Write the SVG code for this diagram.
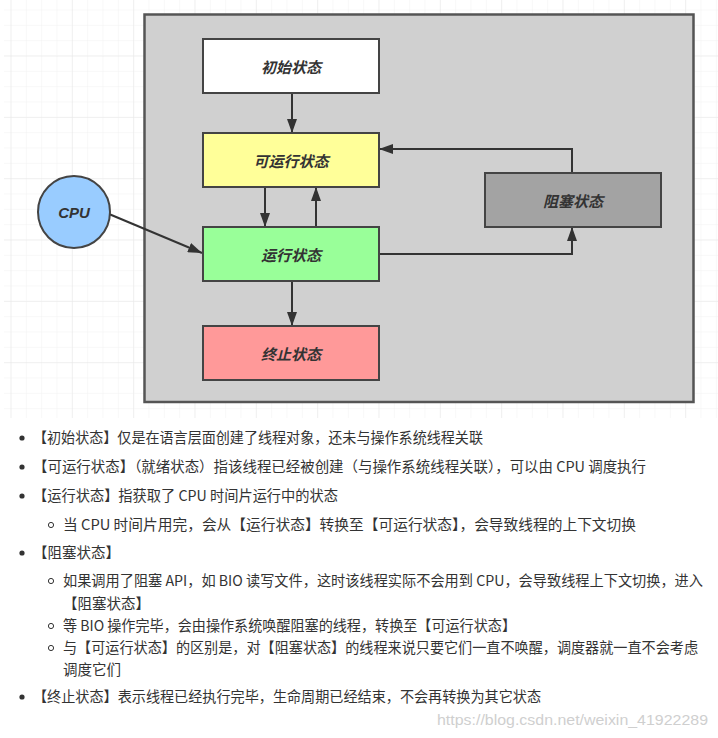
<svg xmlns="http://www.w3.org/2000/svg" width="718" height="738" viewBox="0 0 718 738">
<style>
.node{stroke:#444;stroke-width:2}
.lbl{font-family:"Noto Sans CJK SC","Noto Sans",sans-serif;font-size:15px;font-weight:bold;font-style:italic;fill:#333;text-anchor:middle;dominant-baseline:central}
.cpu{font-family:"Liberation Sans","Noto Sans",sans-serif;font-size:15px;font-weight:bold;font-style:italic;fill:#333;text-anchor:middle;dominant-baseline:central}
.edge{fill:none;stroke:#333;stroke-width:2}
.t{font-family:"Noto Sans CJK SC","Noto Sans",sans-serif;font-size:14.5px;fill:#333}
.wm{font-family:"Liberation Sans","Noto Sans",sans-serif;font-size:15px;fill:#cfcfcf}
</style>
<defs>
<pattern id="gmin" x="10.5" y="9.5" width="15.333" height="15.333" patternUnits="userSpaceOnUse">
<path d="M15.333 0H0V15.333" fill="none" stroke="#f1f1f1" stroke-width="1"/>
</pattern>
<pattern id="gmaj" x="10.5" y="-5.8" width="61.333" height="61.333" patternUnits="userSpaceOnUse">
<path d="M61.333 0H0V61.333" fill="none" stroke="#e7e7e7" stroke-width="1"/>
</pattern>
<marker id="ah" markerUnits="userSpaceOnUse" markerWidth="14" markerHeight="10" refX="14" refY="5" orient="auto">
<path d="M0,0L14,5L0,10z" fill="#333"/>
</marker>
</defs>
<rect width="718" height="738" fill="#fff"/>
<rect x="4" y="0" width="714" height="418" fill="url(#gmin)"/>
<rect x="4" y="0" width="714" height="418" fill="url(#gmaj)"/>
<g id="container">
<rect x="144.5" y="14.5" width="549" height="387.5" fill="#d0d0d0" stroke="#555" stroke-width="2.5"/>
</g>
<g id="connectors">
<line class="edge" x1="292" y1="93" x2="292" y2="133" marker-end="url(#ah)"/>
<line class="edge" x1="265" y1="187" x2="265" y2="227" marker-end="url(#ah)"/>
<line class="edge" x1="316" y1="227" x2="316" y2="187" marker-end="url(#ah)"/>
<line class="edge" x1="292" y1="281" x2="292" y2="326" marker-end="url(#ah)"/>
<line class="edge" x1="109" y1="214" x2="202" y2="253" marker-end="url(#ah)"/>
<polyline class="edge" points="379,254 572,254 572,227" marker-end="url(#ah)"/>
<polyline class="edge" points="572,173 572,149 379,149" marker-end="url(#ah)"/>
</g>
<g id="init"><rect class="node" x="203" y="39" width="176" height="54" fill="#ffffff"/><text class="lbl" x="291" y="66">初始状态</text></g>
<g id="runnable"><rect class="node" x="203" y="133" width="176" height="54" fill="#ffff99"/><text class="lbl" x="291" y="160">可运行状态</text></g>
<g id="running"><rect class="node" x="203" y="227" width="176" height="54" fill="#99ff99"/><text class="lbl" x="291" y="254">运行状态</text></g>
<g id="terminated"><rect class="node" x="203" y="326" width="176" height="54" fill="#ff9999"/><text class="lbl" x="291" y="353">终止状态</text></g>
<g id="blocked"><rect class="node" x="485" y="173" width="176" height="54" fill="#a3a3a3"/><text class="lbl" x="573" y="200">阻塞状态</text></g>
<g id="cpu"><circle class="node" cx="74" cy="212" r="36" fill="#99ccff"/><text class="cpu" x="74" y="212">CPU</text></g>
<g id="notes">
<circle cx="22" cy="438" r="2.6" fill="#333"/>
<text class="t" x="33" y="443" textLength="450" lengthAdjust="spacingAndGlyphs">【初始状态】仅是在语言层面创建了线程对象，还未与操作系统线程关联</text>
<circle cx="22" cy="467" r="2.6" fill="#333"/>
<text class="t" x="33" y="472" textLength="613" lengthAdjust="spacingAndGlyphs">【可运行状态】（就绪状态）指该线程已经被创建（与操作系统线程关联），可以由 CPU 调度执行</text>
<circle cx="22" cy="496" r="2.6" fill="#333"/>
<text class="t" x="33" y="501" textLength="305" lengthAdjust="spacingAndGlyphs">【运行状态】指获取了 CPU 时间片运行中的状态</text>
<circle cx="51" cy="525" r="2.6" fill="none" stroke="#333" stroke-width="1"/>
<text class="t" x="63" y="530" textLength="573" lengthAdjust="spacingAndGlyphs">当 CPU 时间片用完，会从【运行状态】转换至【可运行状态】，会导致线程的上下文切换</text>
<circle cx="22" cy="553" r="2.6" fill="#333"/>
<text class="t" x="33" y="558">【阻塞状态】</text>
<circle cx="51" cy="581" r="2.6" fill="none" stroke="#333" stroke-width="1"/>
<text class="t" x="63" y="586" textLength="640" lengthAdjust="spacingAndGlyphs">如果调用了阻塞 API，如 BIO 读写文件，这时该线程实际不会用到 CPU，会导致线程上下文切换，进入</text>
<text class="t" x="63" y="609">【阻塞状态】</text>
<circle cx="51" cy="626" r="2.6" fill="none" stroke="#333" stroke-width="1"/>
<text class="t" x="63" y="631" textLength="453" lengthAdjust="spacingAndGlyphs">等 BIO 操作完毕，会由操作系统唤醒阻塞的线程，转换至【可运行状态】</text>
<circle cx="51" cy="648" r="2.6" fill="none" stroke="#333" stroke-width="1"/>
<text class="t" x="63" y="653" textLength="635" lengthAdjust="spacingAndGlyphs">与【可运行状态】的区别是，对【阻塞状态】的线程来说只要它们一直不唤醒，调度器就一直不会考虑</text>
<text class="t" x="63" y="675">调度它们</text>
<circle cx="22" cy="697" r="2.6" fill="#333"/>
<text class="t" x="33" y="702" textLength="508" lengthAdjust="spacingAndGlyphs">【终止状态】表示线程已经执行完毕，生命周期已经结束，不会再转换为其它状态</text>
<text class="wm" x="437" y="725" textLength="271" lengthAdjust="spacingAndGlyphs">https://blog.csdn.net/weixin_41922289</text>
</g>
</svg>
